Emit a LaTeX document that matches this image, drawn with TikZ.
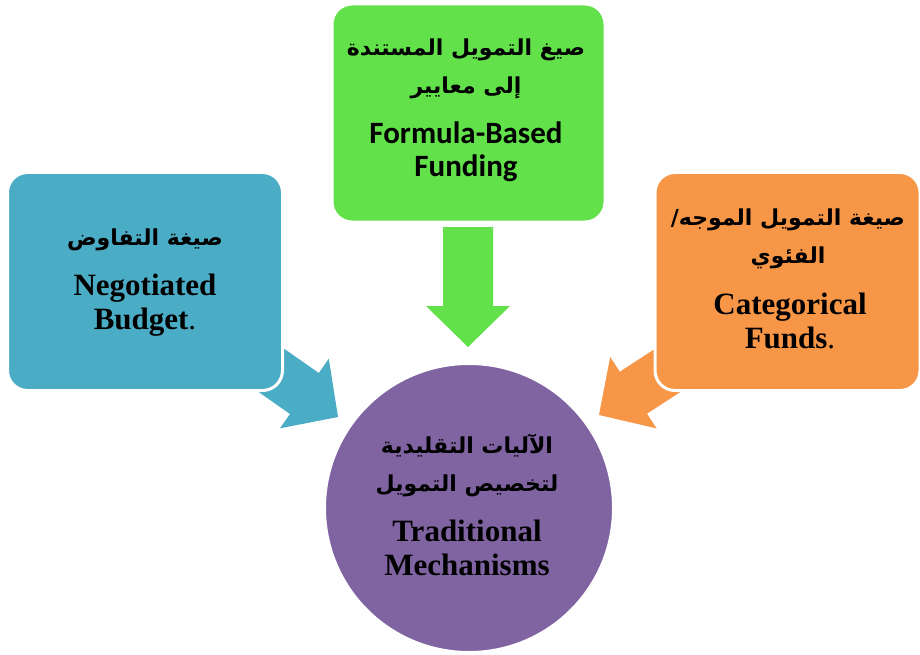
\documentclass[tikz,border=0pt]{standalone}
\usepackage{fontspec}
\setmainfont{Liberation Serif}
\newfontfamily\arabicfont[Script=Arabic]{DejaVu Sans}
\newfontfamily\calibrifont{Carlito}
\TeXXeTstate=1
\definecolor{gboxc}{HTML}{62E14A}
\definecolor{bboxc}{HTML}{4BACC6}
\definecolor{oboxc}{HTML}{F79646}
\definecolor{pcircc}{HTML}{8064A2}
\newcommand{\ARline}[1]{\beginR #1\endR}
\tikzset{
  panel/.style={draw=white, line width=3pt, rounded corners=20pt, inner sep=0pt},
  artext/.style={align=center, inner sep=0pt, font=\arabicfont\bfseries\fontsize{22}{38}\selectfont},
  entext/.style={align=center, inner sep=0pt, font=\bfseries\fontsize{31}{34}\selectfont},
  calibritext/.style={align=center, inner sep=0pt, font=\calibrifont\bfseries\fontsize{31}{33}\selectfont},
}
\begin{document}
\begin{tikzpicture}[x=1pt,y=-1pt]
\useasboundingbox[fill=white] (0,0) rectangle (920,655);

% block arrows (behind the panels)
\fill[bboxc] (338,417) -- (328.8,358.7) -- (318.8,373.0) -- (253.2,327.1)
  -- (224.6,368.1) -- (290.0,414.0) -- (280.0,428.3) -- cycle;
\fill[oboxc] (599,415) -- (610.2,357.0) -- (619.8,371.7) -- (686.9,328.1)
  -- (714.1,370.1) -- (647.0,413.7) -- (656.6,428.4) -- cycle;
\fill[gboxc] (468,347) -- (426,306) -- (443,306) -- (443,227) -- (493,227)
  -- (493,306) -- (510,306) -- cycle;

% panels
\node[panel, fill=gboxc, minimum width=273pt, minimum height=218pt] (formula) at (468.5,113) {};
\node[panel, fill=bboxc, minimum width=275pt, minimum height=218pt] (negot) at (145,281.5) {};
\node[panel, fill=oboxc, minimum width=265pt, minimum height=218pt] (categ) at (787.5,281.5) {};
\node[circle, draw=white, line width=3pt, fill=pcircc, minimum size=289pt, inner sep=0pt] (trad) at (469,508) {};

% texts
\node[artext] (formulaar) at (466,69) {\ARline{صيغ التمويل المستندة}\\\ARline{إلى معايير}};
\node[calibritext] (formulaen) at (466,151.5) {Formula-Based\\Funding};

\node[artext] (negotar) at (145,240) {\ARline{صيغة التفاوض}};
\node[entext] (negoten) at (145,305) {Negotiated\\Budget{\mdseries.}};

\node[artext] (categar) at (788,239) {\ARline{صيغة التمويل الموجه/}\\\ARline{الفئوي}};
\node[entext] (categen) at (790,320.5) {Categorical\\Funds{\mdseries.}};

\node[artext] (tradar) at (467,465) {\ARline{الآليات التقليدية}\\\ARline{لتخصيص التمويل}};
\node[entext] (traden) at (467,547.5) {Traditional\\Mechanisms};
\end{tikzpicture}
\end{document}
